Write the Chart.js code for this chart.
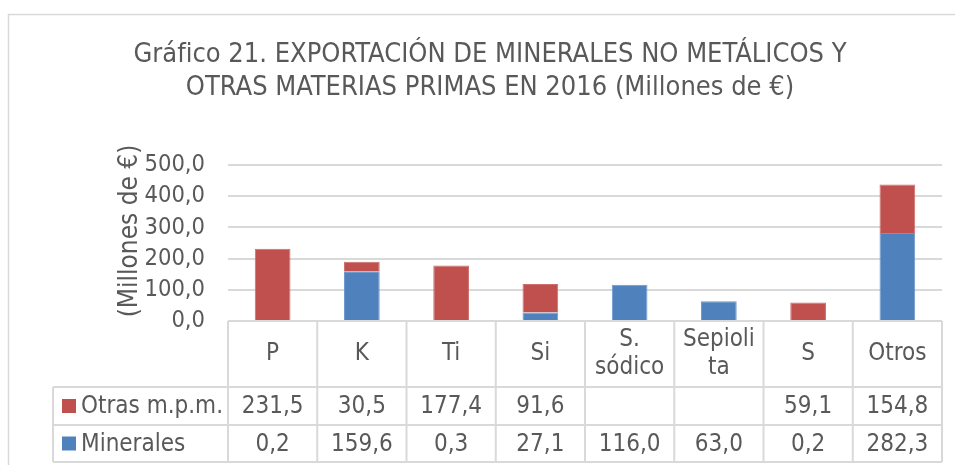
<!DOCTYPE html>
<html lang="es">
<head>
<meta charset="utf-8">
<title>Exportación de minerales no metálicos 2016</title>
<script src="https://cdn.jsdelivr.net/npm/chart.js@4.4.1/dist/chart.umd.min.js"></script>
<style>
  html, body { margin: 0; padding: 0; background: #fff; }
  #grafico { display: block; }
</style>
</head>
<body>
<canvas id="grafico" width="955" height="465" style="width:955px;height:465px"></canvas>
<script>
// Datos del gráfico (millones de €)
const categorias = ['P', 'K', 'Ti', 'Si', 'S. sódico', 'Sepiolita', 'S', 'Otros'];
// Cómo se parte cada categoría en la cabecera de la tabla
const cabeceraTabla = [['P'], ['K'], ['Ti'], ['Si'], ['S.', 'sódico'], ['Sepioli', 'ta'], ['S'], ['Otros']];
const otrasMpm = [231.5, 30.5, 177.4, 91.6, null, null, 59.1, 154.8];
const minerales = [0.2, 159.6, 0.3, 27.1, 116.0, 63.0, 0.2, 282.3];
const ticksY = [0, 100, 200, 300, 400, 500];

const ROJO = '#C0504D';
const AZUL = '#4F81BD';
const GRIS_TEXTO = '#595959';
const GRIS_LINEA = '#D9D9D9';
const FUENTE = '"DejaVu Sans Condensed", "Liberation Sans", sans-serif';

const fmt = v => v.toFixed(1).replace('.', ',');

// Marco, título, título del eje y tabla de datos bajo el gráfico
const tablaDatos = {
    id: 'tablaDatos',
    beforeDraw(chart) {
        const ctx = chart.ctx;
        ctx.save();
        ctx.strokeStyle = GRIS_LINEA;
        ctx.lineWidth = 1.5;
        ctx.strokeRect(8.5, 14.5, 1000, 500);

        ctx.fillStyle = GRIS_TEXTO;
        ctx.textAlign = 'center';
        ctx.textBaseline = 'alphabetic';
        ctx.font = '27px ' + FUENTE;
        ctx.fillText('Gráfico 21. EXPORTACIÓN DE MINERALES NO METÁLICOS Y', 490, 62);
        ctx.fillText('OTRAS MATERIAS PRIMAS EN 2016 (Millones de €)', 490, 95);

        ctx.translate(130, 231);
        ctx.rotate(-Math.PI / 2);
        ctx.textBaseline = 'middle';
        ctx.font = '26px ' + FUENTE;
        ctx.fillText('(Millones de €)', 0, 0);
        ctx.restore();
    },
    afterDraw(chart) {
        const ctx = chart.ctx;
        const area = chart.chartArea;
        const x = chart.scales.x;
        const n = categorias.length;
        const colW = (area.right - area.left) / n;
        const y0 = area.bottom;
        const y1 = y0 + 66;
        const y2 = y1 + 38;
        const y3 = y2 + 37;
        const izq = 53;

        ctx.save();
        ctx.strokeStyle = GRIS_LINEA;
        ctx.lineWidth = 2;
        ctx.beginPath();
        // líneas horizontales
        ctx.moveTo(area.left, y0); ctx.lineTo(area.right, y0);
        ctx.moveTo(izq, y1); ctx.lineTo(area.right, y1);
        ctx.moveTo(izq, y2); ctx.lineTo(area.right, y2);
        ctx.moveTo(izq, y3); ctx.lineTo(area.right, y3);
        // líneas verticales
        ctx.moveTo(izq, y1); ctx.lineTo(izq, y3);
        for (let i = 0; i <= n; i++) {
            const xi = area.left + i * colW;
            ctx.moveTo(xi, y0); ctx.lineTo(xi, y3);
        }
        ctx.stroke();

        ctx.fillStyle = GRIS_TEXTO;
        ctx.textAlign = 'center';
        ctx.textBaseline = 'middle';
        ctx.font = '24px ' + FUENTE;

        // cabecera con las categorías
        cabeceraTabla.forEach((lineas, i) => {
            const cx = x.getPixelForValue(i);
            const cy = (y0 + y1) / 2;
            const alto = 28;
            lineas.forEach((txt, j) => {
                ctx.fillText(txt, cx, cy + (j - (lineas.length - 1) / 2) * alto);
            });
        });

        // filas de valores
        const filas = [
            { nombre: 'Otras m.p.m.', color: ROJO, datos: otrasMpm, top: y1, bottom: y2 },
            { nombre: 'Minerales', color: AZUL, datos: minerales, top: y2, bottom: y3 }
        ];
        filas.forEach(f => {
            const cy = (f.top + f.bottom) / 2;
            f.datos.forEach((v, i) => {
                if (v === null) return;
                ctx.textAlign = 'center';
                ctx.fillText(fmt(v), x.getPixelForValue(i), cy + 1);
            });
            ctx.fillStyle = f.color;
            ctx.fillRect(62, cy - 7, 14, 14);
            ctx.fillStyle = GRIS_TEXTO;
            ctx.textAlign = 'left';
            ctx.fillText(f.nombre, 81, cy + 1);
        });
        ctx.restore();
    }
};

new Chart(document.getElementById('grafico'), {
    type: 'bar',
    data: {
        labels: categorias,
        datasets: [
            {
                label: 'Minerales',
                data: minerales,
                backgroundColor: AZUL,
                borderColor: '#6E97CB',
                borderWidth: 1,
                barPercentage: 0.4,
                categoryPercentage: 1
            },
            {
                label: 'Otras m.p.m.',
                data: otrasMpm,
                backgroundColor: ROJO,
                borderColor: '#CC6E6B',
                borderWidth: 1,
                barPercentage: 0.4,
                categoryPercentage: 1
            }
        ]
    },
    options: {
        responsive: false,
        animation: false,
        layout: { padding: { top: 165, right: 13, bottom: 144, left: 0 } },
        plugins: {
            legend: { display: false },
            title: { display: false },
            tooltip: { enabled: false }
        },
        scales: {
            x: {
                display: false,
                stacked: true
            },
            y: {
                stacked: true,
                min: ticksY[0],
                max: ticksY[ticksY.length - 1],
                afterFit: s => { s.width = 228; },
                afterBuildTicks: s => { s.ticks = ticksY.map(v => ({ value: v })); },
                border: { display: false },
                grid: { color: GRIS_LINEA, lineWidth: 2, drawTicks: false },
                ticks: {
                    autoSkip: false,
                    padding: 23,
                    color: GRIS_TEXTO,
                    font: { family: FUENTE, size: 23.5 },
                    callback: v => fmt(v)
                }
            }
        }
    },
    plugins: [tablaDatos]
});
</script>
</body>
</html>
